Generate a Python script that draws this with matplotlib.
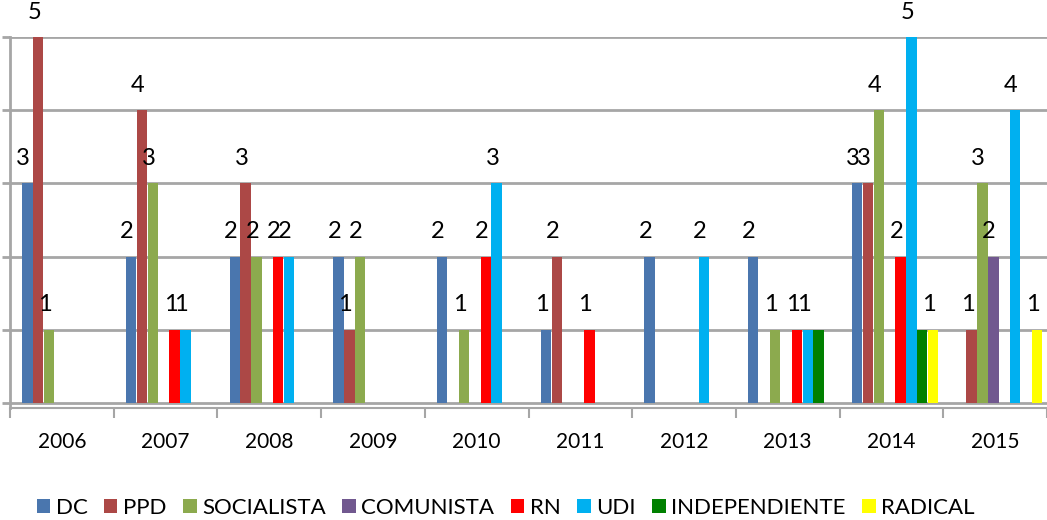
import numpy as np
import matplotlib
matplotlib.use("Agg")
from matplotlib import pyplot as plt
from matplotlib.patches import Patch

plt.rcParams['font.family'] = ['Lato', 'DejaVu Sans']

years = ["2006", "2007", "2008", "2009", "2010", "2011", "2012", "2013", "2014", "2015"]
parties = ["DC", "PPD", "SOCIALISTA", "COMUNISTA", "RN", "UDI", "INDEPENDIENTE", "RADICAL"]
colors = ["#4A76AE", "#AC4846", "#8CAA4E", "#71588F", "#FF0000", "#00B0F0", "#008000", "#FFFF00"]

dc = [3, 2, 2, 2, 2, 1, 2, 2, 3, 0]
ppd = [5, 4, 3, 1, 0, 2, 0, 0, 3, 1]
socialista = [1, 3, 2, 2, 1, 0, 0, 1, 4, 3]
comunista = [0, 0, 0, 0, 0, 0, 0, 0, 0, 2]
rn = [0, 1, 2, 0, 2, 1, 0, 1, 2, 0]
udi = [0, 1, 2, 0, 3, 0, 2, 1, 5, 4]
independiente = [0, 0, 0, 0, 0, 0, 0, 1, 1, 0]
radical = [0, 0, 0, 0, 0, 0, 0, 0, 1, 1]

series = [dc, ppd, socialista, comunista, rn, udi, independiente, radical]
# the original chart shows no value labels for INDEPENDIENTE
labelled = [True, True, True, True, True, True, False, True]

fig = plt.figure(figsize=(10.47, 5.2), dpi=100)
ax = fig.add_axes([10 / 1047, 112 / 520, 1037 / 1047, 371 / 520])

x = np.arange(len(years))
step = 0.105
for i, (name, vals, c) in enumerate(zip(parties, series, colors)):
    pos = x + (i - 3.5) * step + 0.035
    for xp, v in zip(pos, vals):
        if v == 0:
            continue
        ax.bar(xp, v, width=step * 0.95, color=c, edgecolor='none', zorder=3)
        if labelled[i]:
            ax.text(xp - 0.04, v + 0.34, str(v), ha='center', va='center',
                    fontsize=17, color='black', clip_on=False, zorder=4)

ax.set_xlim(-0.5, len(years) - 0.5)
ax.set_ylim(-0.07, 5)
ax.set_yticks(range(0, 6))
ax.set_yticklabels([])
ax.yaxis.grid(True, color='#A6A6A6', linewidth=2, zorder=0)
ax.tick_params(axis='y', length=6, width=2, color='#A6A6A6', direction='out')

ax.set_xticks(x)
ax.set_xticklabels(years, fontsize=15)
ax.set_xticks(np.arange(len(years) + 1) - 0.5, minor=True)
ax.tick_params(axis='x', which='major', length=0, pad=17)
ax.tick_params(axis='x', which='minor', length=7, width=1.5, color='#A6A6A6')

for s in ['top', 'right']:
    ax.spines[s].set_visible(False)
ax.spines['left'].set_color('#A6A6A6')
ax.spines['left'].set_linewidth(2)
ax.spines['bottom'].set_color('#A6A6A6')
ax.spines['bottom'].set_linewidth(1.5)

handles = [Patch(facecolor=c, edgecolor='none') for c in colors]
fig.legend(handles, parties, loc='center', bbox_to_anchor=(0.483, 0.023), ncol=8,
           frameon=False, fontsize=16, handlelength=0.6, handleheight=0.6,
           handletextpad=0.25, columnspacing=0.75)

fig.savefig("out.png", dpi=100)
